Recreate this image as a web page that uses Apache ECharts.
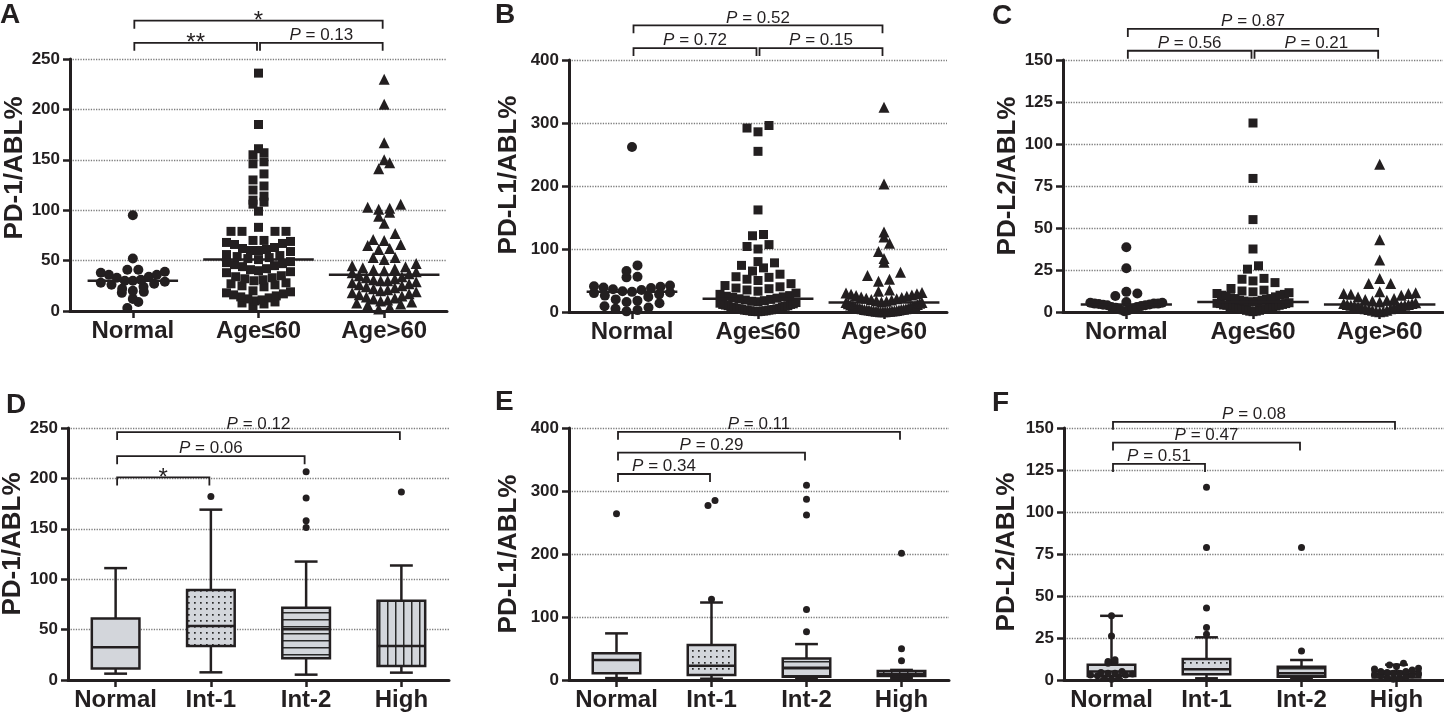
<!DOCTYPE html>
<html>
<head>
<meta charset="utf-8">
<script src="https://cdn.jsdelivr.net/npm/echarts@6/dist/echarts.min.js"></script>
<style>
html,body{margin:0;padding:0;background:#fff;}
#main{width:1444px;height:714px;}
</style>
</head>
<body>
<div id="main"></div>
<script>
// categories
var groupsTop = ['Normal', 'Age≤60', 'Age>60'];
var groupsBottom = ['Normal', 'Int-1', 'Int-2', 'High'];

// A: PD-1/ABL% (dot plot)
var pd1Normal = [95, 52, 41, 41, 39, 38, 36, 36, 34, 33, 31, 30, 30, 29, 28, 27, 26, 24, 22, 20, 19, 18, 12, 9, 3];
var pd1Young = [236, 185, 161, 157, 155, 148, 146, 136, 130, 124, 120, 114, 110, 108, 106, 99, 83, 79, 79, 79, 79,
  70, 70, 69, 68, 67, 66, 63, 62, 61, 60, 60, 59, 56, 55, 54, 53, 52, 51, 49, 48, 47, 46, 45, 44, 42, 41, 40, 39, 38,
  35, 34, 33, 32, 31, 30, 28, 27, 26, 25, 24, 20, 19, 18, 17, 16, 15, 14, 13, 12, 11, 10, 9, 8, 7, 5];
var pd1Old = [230, 205, 167, 150, 147, 141, 106, 103, 102, 101, 98, 94, 87, 77, 71, 70, 66, 65, 62, 61, 53, 53, 51,
  47, 45, 44, 43, 42, 41, 40, 39, 38, 37, 35, 34, 33, 32, 31, 30, 30, 29, 28, 27, 26, 25, 24, 23, 22, 21, 20, 19, 18,
  17, 16, 15, 14, 13, 12, 11, 10, 9, 8, 7, 6, 4, 2];
var pd1Medians = [30, 51, 36];
var bracketsA = [[0, 2, 288], [0, 1, 266], [1, 2, 266]];
var bracketLabelsA = ['*', '**', 'P = 0.13'];

// B: PD-L1/ABL%
var pdl1Normal = [262, 74, 65, 56, 55, 42, 41, 40, 39, 38, 36, 35, 33, 32, 31, 30, 28, 26, 24, 20, 18, 16, 14, 9, 7, 5, 3, 1];
var pdl1Young = [296, 292, 286, 255, 162, 123, 121, 107, 104, 100, 80, 78, 74, 70, 65, 60, 56, 55, 52, 50, 45, 42, 40,
  38, 37, 35, 33, 30, 28, 26, 25, 24, 23, 22, 21, 20, 19, 18, 17, 16, 15, 14, 13, 12, 12, 11, 10, 10, 9, 8, 8, 7, 6, 6,
  5, 5, 4, 4, 3.5, 3, 3, 2.5, 2, 2, 1.5, 1, 1, 0.8, 0.5];
var pdl1Old = [325, 203, 127, 119, 109, 96, 85, 79, 63, 58, 52, 49, 35, 33, 31, 30, 29, 28, 27, 26, 25, 24, 23, 22, 21,
  20, 19, 18, 17, 16, 15, 15, 14, 13, 12, 11, 10, 10, 9, 8, 8, 7, 6, 6, 5, 5, 4.5, 4, 4, 3.5, 3, 3, 2.5, 2.2, 2, 2, 1.5,
  1.2, 1, 1, 0.8, 0.5, 0.5, 0.3];
var pdl1Medians = [32, 21, 15];
var bracketsB = [[0, 2, 455], [0, 1, 419], [1, 2, 419]];
var bracketLabelsB = ['P = 0.52', 'P = 0.72', 'P = 0.15'];

// C: PD-L2/ABL%
var pdl2Normal = [38.5, 26, 12, 11, 9.5, 6, 5.5, 5.5, 5, 5, 5, 4.8, 4.5, 4.3, 4, 4, 3.5, 3, 3, 2.5, 2, 1.5, 1, 0.5];
var pdl2Young = [112.5, 79.5, 55, 37.5, 27.5, 25.5, 20, 19.5, 18.5, 17.5, 14, 13, 12.5, 12, 11.5, 11, 10.5, 10, 10, 9.5,
  9, 8.5, 8, 8, 7.5, 7, 7, 6.5, 6.2, 6, 6, 5.5, 5.2, 5, 5, 4.5, 4.2, 4, 4, 3.5, 3.2, 3, 3, 2.8, 2.5, 2, 2, 1.8, 1.5, 1,
  1, 0.5, 0.5, 0.2];
var pdl2Old = [88, 43, 31, 20, 17, 17, 12, 11.5, 11, 11, 10.5, 10, 9, 8, 7.5, 7, 6.5, 6, 5.5, 5, 5, 4.5, 4.5, 4, 4,
  3.5, 3.5, 3, 3, 2.5, 2.5, 2, 2, 1.5, 1, 1, 0.5, 0.5, 0.2];
var pdl2Medians = [4.5, 6, 4.5];
var bracketsC = [[0, 2, 168.5], [0, 1, 155.5], [1, 2, 155.5]];
var bracketLabelsC = ['P = 0.87', 'P = 0.56', 'P = 0.21'];

// D-F: box plots [min, Q1, median, Q3, max]
var pd1Boxes = [[6.3, 11.3, 32.4, 61, 111], [7.6, 33.8, 53.6, 89.4, 169], [5.3, 21.5, 50.3, 71.8, 117.5], [7.3, 13.9, 33.8, 78.5, 113.6]];
var pd1Outliers = [[], [182], [206.6, 180.5, 158, 151.3], [186.4]];
var bracketsD = [[0, 3, 246], [0, 2, 222], [0, 1, 201]];
var bracketLabelsD = ['P = 0.12', 'P = 0.06', '*'];

var pdl1Boxes = [[3, 10.6, 31.7, 42.3, 74], [2, 7.9, 22.7, 55.5, 123], [3, 5.3, 19.5, 34.3, 57], [3, 6.3, 9.5, 14.3, 16]];
var pdl1Outliers = [[264], [285, 277, 128], [309, 287, 262, 112, 76.6], [201, 49.7, 30.6]];
var bracketsE = [[0, 3, 394], [0, 2, 361], [0, 1, 327]];
var bracketLabelsE = ['P = 0.11', 'P = 0.29', 'P = 0.34'];

var pdl2Boxes = [[0.5, 2.4, 5, 9.1, 38.2], [1, 3.4, 6.4, 12.5, 25.4], [1, 2, 4, 7.9, 11.9], [0.5, 1.5, 3.5, 5, 9.1]];
var pdl2Outliers = [[38.2, 26.2, 12, 11, 10.5, 10, 5, 4.5, 4, 4, 3.5, 3, 3, 2.5, 2, 1, 0.5], [114.8, 78.9, 42.9, 31.2, 27.2],
  [78.9, 17.3], [10, 9, 8, 7, 6.5, 6, 5, 5, 4.5, 4, 4, 3.5, 3, 3, 2.5, 2, 1.5, 1, 0.5]];
var bracketsF = [[0, 3, 153.7], [0, 2, 141.3], [0, 1, 128.6]];
var bracketLabelsF = ['P = 0.08', 'P = 0.47', 'P = 0.51'];

var INK = '#231f20';
var FONT = '"Liberation Sans", Arial, sans-serif';
var BOX = '#d3d6db';

// fill patterns for the boxes
function pattern(kind) {
  var cv = document.createElement('canvas');
  var w = kind == 'dots' ? 6 : (kind == 'vlines' ? 8 : 4);
  var h = kind == 'dots' ? 6 : (kind == 'hlines' ? 7 : 4);
  cv.width = w; cv.height = h;
  var ctx = cv.getContext('2d');
  ctx.fillStyle = BOX; ctx.fillRect(0, 0, w, h);
  ctx.fillStyle = '#2a2a2a';
  if (kind == 'dots') ctx.fillRect(2, 2, 1.7, 1.7);
  if (kind == 'hlines') ctx.fillRect(0, 3, w, 1.5);
  if (kind == 'vlines') ctx.fillRect(3, 0, 1.5, h);
  return { image: cv, repeat: 'repeat' };
}
var boxFills = [BOX, pattern('dots'), pattern('hlines'), pattern('vlines')];

// row based dot layout (like a column scatter): points binned by pixel height,
// spread side by side in each row, squeezed when a row gets too wide
function swarm(values, idx, unitPx, bandPx, rowH, gapPx, maxHalf) {
  var rows = {};
  values.forEach(function (v) {
    var r = Math.floor(v * unitPx / rowH);
    (rows[r] = rows[r] || []).push(v);
  });
  var out = [];
  Object.keys(rows).forEach(function (r) {
    var vs = rows[r].slice().sort(function (a, b) { return a - b; });
    var m = vs.length;
    var s = m > 1 ? Math.min(gapPx, 2 * maxHalf / (m - 1)) : 0;
    // lowest in the middle, higher ones outward (gives the "smile")
    var slots = [];
    for (var j = 0; j < m; j++) slots.push((j - (m - 1) / 2) * s);
    slots.sort(function (a, b) { return Math.abs(a) - Math.abs(b) || a - b; });
    vs.forEach(function (v, j) { out.push([idx + 0.5 + slots[j] / bandPx, v]); });
  });
  return out;
}

var panels = [
  { grid: { left: 70, top: 59, width: 377, height: 252 }, cats: groupsTop, max: 250, step: 50, title: 'PD-1/ABL%', gap: 42, shift: 17, spread: 32,
    groups: [pd1Normal, pd1Young, pd1Old], medians: pd1Medians, brackets: bracketsA, labels: bracketLabelsA },
  { grid: { left: 569, top: 60, width: 378, height: 252 }, cats: groupsTop, max: 400, step: 100, title: 'PD-L1/ABL%', gap: 47, shift: 11, spread: 38,
    groups: [pdl1Normal, pdl1Young, pdl1Old], medians: pdl1Medians, brackets: bracketsB, labels: bracketLabelsB },
  { grid: { left: 1063, top: 60, width: 380, height: 252 }, cats: groupsTop, max: 150, step: 25, title: 'PD-L2/ABL%', gap: 41, shift: 10, spread: 36,
    groups: [pdl2Normal, pdl2Young, pdl2Old], medians: pdl2Medians, brackets: bracketsC, labels: bracketLabelsC },
  { grid: { left: 68, top: 428, width: 381, height: 252 }, cats: groupsBottom, max: 250, step: 50, title: 'PD-1/ABL%', gap: 39, shift: 10,
    boxes: pd1Boxes, outliers: pd1Outliers, brackets: bracketsD, labels: bracketLabelsD },
  { grid: { left: 569, top: 428, width: 380, height: 252 }, cats: groupsBottom, max: 400, step: 100, title: 'PD-L1/ABL%', gap: 47, shift: 0,
    boxes: pdl1Boxes, outliers: pdl1Outliers, brackets: bracketsE, labels: bracketLabelsE },
  { grid: { left: 1064, top: 428, width: 380, height: 252 }, cats: groupsBottom, max: 150, step: 25, title: 'PD-L2/ABL%', gap: 44, shift: 2,
    boxes: pdl2Boxes, outliers: pdl2Outliers, brackets: bracketsF, labels: bracketLabelsF }
];

var symbols = ['circle', 'rect', 'triangle'];
var symbolSizes = [10, 9, 11];

var option = { animation: false, backgroundColor: '#fff', grid: [], xAxis: [], yAxis: [], series: [], graphic: [] };

panels.forEach(function (pn, i) {
  var n = pn.cats.length;
  var g = pn.grid;
  option.grid.push({ left: g.left, top: g.top, width: g.width, height: g.height, outerBoundsMode: 'none', containLabel: false });
  option.xAxis.push({
    gridIndex: i, type: 'category', data: pn.cats, boundaryGap: true,
    axisLine: { show: true, lineStyle: { color: INK, width: 3 } },
    axisTick: { show: true, alignWithLabel: true, length: 7, lineStyle: { color: INK, width: 2.5 } },
    axisLabel: { interval: 0, fontSize: 24, fontWeight: 'bold', color: INK, margin: 8, fontFamily: FONT },
    splitLine: { show: false }
  });
  option.xAxis.push({ gridIndex: i, type: 'value', min: 0, max: n, show: false, position: 'top', splitLine: { show: false } });
  option.yAxis.push({
    gridIndex: i, type: 'value', min: 0, max: pn.max, interval: pn.step,
    name: pn.title, nameLocation: 'middle', nameGap: pn.gap,
    nameTextStyle: { fontSize: 26, fontWeight: 'bold', color: INK, fontFamily: FONT, padding: [0, 0, 0, pn.shift * 2] },
    axisLine: { show: true, lineStyle: { color: INK, width: 3 } },
    axisTick: { show: true, length: 7, lineStyle: { color: INK, width: 2.5 } },
    axisLabel: { fontSize: 17, fontWeight: 'bold', color: INK, margin: 10, fontFamily: FONT },
    splitLine: { show: true, lineStyle: { type: 'dotted', color: '#7d7d7d', width: 1.3 } }
  });

  var unitPx = g.height / pn.max;
  var bandPx = g.width / n;
  var xi = 2 * i + 1;

  if (pn.groups) {
    pn.groups.forEach(function (vals, k) {
      option.series.push({
        type: 'scatter', xAxisIndex: xi, yAxisIndex: i, symbol: symbols[k], symbolSize: symbolSizes[k],
        data: swarm(vals, k, unitPx, bandPx, 10, 11, pn.spread), itemStyle: { color: INK, opacity: 1 }, silent: true, z: 3
      });
    });
    option.series.push({
      type: 'custom', xAxisIndex: xi, yAxisIndex: i, z: 4, silent: true, clip: false,
      data: pn.medians.map(function (m, k) { return [k + 0.5, m]; }),
      renderItem: function (params, api) {
        var p = api.coord([api.value(0), api.value(1)]);
        var hw = bandPx * (params.dataIndex == 0 ? 0.36 : 0.44);
        return { type: 'line', shape: { x1: p[0] - hw, y1: p[1], x2: p[0] + hw, y2: p[1] }, style: { stroke: INK, lineWidth: 2.5 } };
      }
    });
  } else {
    option.series.push({
      type: 'custom', xAxisIndex: xi, yAxisIndex: i, z: 2, silent: true,
      data: pn.boxes.map(function (b, k) { return [k + 0.5].concat(b); }),
      encode: { x: 0, y: [1, 2, 3, 4, 5] },
      renderItem: function (params, api) {
        var k = params.dataIndex;
        var cx = api.coord([k + 0.5, 0])[0];
        var y = [1, 2, 3, 4, 5].map(function (d) { return api.coord([k + 0.5, api.value(d)])[1]; });
        var bw = bandPx * 0.5, cw = bandPx * 0.24;
        var ln = { stroke: INK, lineWidth: 2.5 };
        return { type: 'group', children: [
          { type: 'line', shape: { x1: cx, y1: y[4], x2: cx, y2: y[3] }, style: ln },
          { type: 'line', shape: { x1: cx, y1: y[1], x2: cx, y2: y[0] }, style: ln },
          { type: 'line', shape: { x1: cx - cw / 2, y1: y[4], x2: cx + cw / 2, y2: y[4] }, style: ln },
          { type: 'line', shape: { x1: cx - cw / 2, y1: y[0], x2: cx + cw / 2, y2: y[0] }, style: ln },
          { type: 'rect', shape: { x: cx - bw / 2, y: y[3], width: bw, height: y[1] - y[3] }, style: { fill: boxFills[k], stroke: INK, lineWidth: 2.5 } },
          { type: 'line', shape: { x1: cx - bw / 2, y1: y[2], x2: cx + bw / 2, y2: y[2] }, style: ln }
        ] };
      }
    });
    var pts = [];
    pn.outliers.forEach(function (vals, k) { pts = pts.concat(swarm(vals, k, unitPx, bandPx, 6, 7, 22)); });
    option.series.push({
      type: 'scatter', xAxisIndex: xi, yAxisIndex: i, symbol: 'circle', symbolSize: 7,
      data: pts, itemStyle: { color: INK, opacity: 1 }, silent: true, z: 3
    });
  }

  // significance brackets
  option.series.push({
    type: 'custom', xAxisIndex: xi, yAxisIndex: i, z: 5, silent: true, clip: false,
    data: pn.brackets,
    renderItem: function (params, api) {
      var b = pn.brackets[params.dataIndex];
      var lab = pn.labels[params.dataIndex];
      var p1 = api.coord([b[0] + 0.5, b[2]]), p2 = api.coord([b[1] + 0.5, b[2]]);
      var x1 = p1[0] + 1.5, x2 = p2[0] - 1.5, y = p1[1];
      var star = lab.charAt(0) == '*';
      var txt = star ? lab : '{i|P}' + lab.slice(1);
      return { type: 'group', children: [
        { type: 'polyline', shape: { points: [[x1, y + 8], [x1, y], [x2, y], [x2, y + 8]] }, style: { stroke: INK, lineWidth: 1.8, fill: null } },
        { type: 'text', x: (x1 + x2) / 2, y: star ? y + 13 : y + 1,
          style: { text: txt, align: 'center', verticalAlign: 'bottom', fill: INK, fontFamily: FONT, fontSize: star ? 24 : 17,
            rich: { i: { fontStyle: 'italic', fontFamily: FONT, fontSize: 17, fill: INK } } } }
      ] };
    }
  });
});

// panel letters
[['A', 0, 1], ['B', 495, 1], ['C', 992, 2], ['D', 6, 391], ['E', 495, 388], ['F', 992, 389]].forEach(function (t) {
  option.graphic.push({ type: 'text', left: t[1], top: t[2], style: { text: t[0], fill: INK, font: 'bold 28px ' + FONT } });
});

var chart = echarts.init(document.getElementById('main'));
chart.setOption(option);
</script>
</body>
</html>
